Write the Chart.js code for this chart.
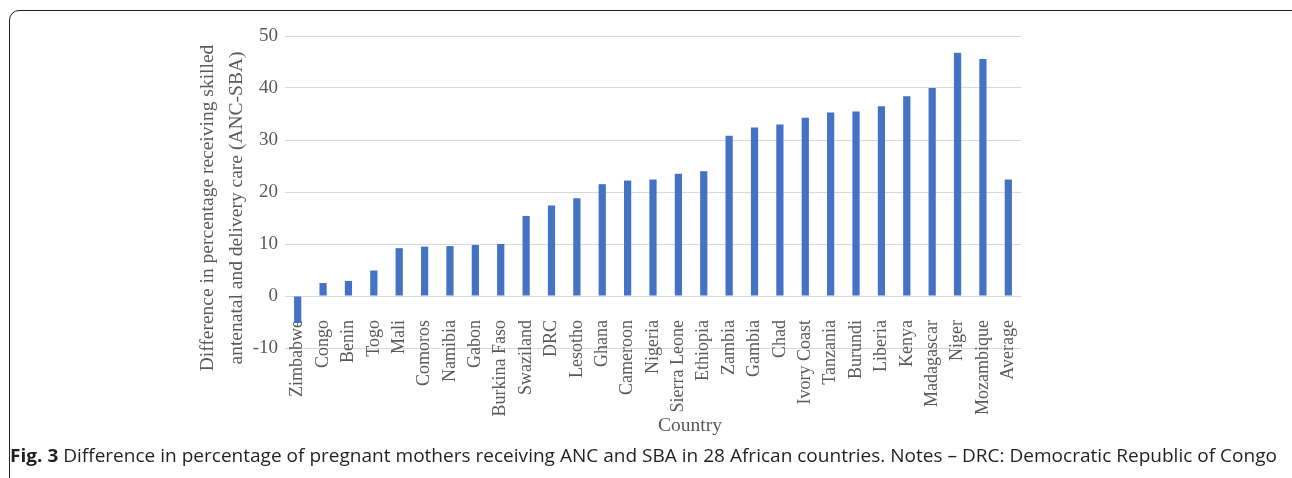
<!DOCTYPE html>
<html>
<head>
<meta charset="utf-8">
<title>Fig. 3</title>
<script src="https://cdn.jsdelivr.net/npm/chart.js@4.4.1/dist/chart.umd.min.js"></script>
<style>
html, body { margin: 0; padding: 0; background: #fff; }
#page { position: relative; width: 1292px; height: 478px; overflow: hidden; }
#frame { position: absolute; left: 9px; top: 10px; width: 1296px; height: 520px;
         border: 1.5px solid #231f20; border-radius: 10px; box-sizing: border-box; }
#chart-wrapper { position: absolute; left: 0; top: 0; width: 1292px; height: 478px; }
#caption { position: absolute; left: 10px; top: 447px; font-family: "Open Sans", sans-serif;
           font-size: 17.5px; line-height: 17px; color: #231f20; white-space: nowrap;
           transform-origin: 0 0; }
#caption b { font-weight: 700; }
</style>
</head>
<body>
<div id="page">
  <div id="frame"></div>
  <div id="chart-wrapper"><canvas id="chart" width="1292" height="478"></canvas></div>
  <div id="caption"><b>Fig. 3</b> Difference in percentage of pregnant mothers receiving ANC and SBA in 28 African countries. Notes – DRC: Democratic Republic of Congo</div>
</div>
<script>
(function() {

    // countries, sorted as in the figure, plus the overall average
    var countries = [
        "Zimbabwe", "Congo", "Benin", "Togo", "Mali", "Comoros", "Namibia",
        "Gabon", "Burkina Faso", "Swaziland", "DRC", "Lesotho", "Ghana",
        "Cameroon", "Nigeria", "Sierra Leone", "Ethiopia", "Zambia", "Gambia",
        "Chad", "Ivory Coast", "Tanzania", "Burundi", "Liberia", "Kenya",
        "Madagascar", "Niger", "Mozambique", "Average"
    ];
    // ANC minus SBA, percentage points
    var anc_sba_gap = [
        -5.2, 2.5, 2.9, 4.9, 9.2, 9.5, 9.6,
        9.8, 10.0, 15.4, 17.4, 18.8, 21.5,
        22.2, 22.4, 23.5, 24.0, 30.8, 32.4,
        33.0, 34.3, 35.3, 35.5, 36.5, 38.4,
        40.0, 46.8, 45.6, 22.4
    ];
    var y_tick_min = -10, y_tick_max = 50, y_tick_step = 10;
    var y_title_lines = [
        "Difference in percentage receiving skilled",
        "antenatal and delivery care (ANC-SBA)"
    ];
    var x_title = "Country";

    var text_color = '#595959',
        grid_color = '#d9d9d9',
        bar_color = '#4472c4',
        serif = '"Liberation Serif", "Times New Roman", serif';

    var pad_left = 200,
        area_left = 285;

    // axis titles drawn by hand so they can sit where Excel put them
    var axis_titles = {
        id: 'axis_titles',
        afterDraw: function(chart) {
            var ctx = chart.ctx,
                area = chart.chartArea;
            ctx.save();
            ctx.fillStyle = text_color;
            ctx.textAlign = 'center';
            ctx.textBaseline = 'middle';

            ctx.font = '19.5px ' + serif;
            var cy = (area.top + area.bottom) / 2 + 16;
            var xs = [208, 237];
            for (var i = 0; i < y_title_lines.length; ++i) {
                ctx.save();
                ctx.translate(xs[i], cy);
                ctx.rotate(-Math.PI / 2);
                ctx.fillText(y_title_lines[i], 0, 0);
                ctx.restore();
            }

            ctx.font = '19.5px ' + serif;
            ctx.fillText(x_title, (area.left + area.right) / 2 + 37, area.bottom + 78);
            ctx.restore();
        }
    };

    var chart = new Chart(document.getElementById('chart'), {
        type: 'bar',
        data: {
            labels: countries,
            datasets: [{
                data: anc_sba_gap,
                backgroundColor: bar_color,
                borderWidth: 0,
                categoryPercentage: 1.0,
                barPercentage: 0.285
            }]
        },
        options: {
            responsive: false,
            animation: false,
            layout: { padding: { left: pad_left, right: 271, top: 36, bottom: 130 } },
            plugins: {
                legend: { display: false },
                tooltip: { enabled: false }
            },
            scales: {
                x: {
                    position: { y: 0 },
                    grid: { display: false },
                    border: { display: false },
                    ticks: {
                        autoSkip: false,
                        minRotation: 90,
                        maxRotation: 90,
                        padding: 16,
                        color: text_color,
                        font: { family: serif, size: 18 }
                    }
                },
                y: {
                    min: y_tick_min,
                    max: y_tick_max,
                    afterFit: function(scale) { scale.width = area_left - pad_left; },
                    grid: { color: grid_color, lineWidth: 1, drawTicks: false },
                    border: { display: false },
                    ticks: {
                        stepSize: y_tick_step,
                        padding: 7,
                        color: text_color,
                        font: { family: serif, size: 19 }
                    }
                }
            }
        },
        plugins: [axis_titles]
    });

    // stretch the caption to the width it has in the figure
    var caption = document.getElementById('caption');
    var natural = caption.getBoundingClientRect().width;
    caption.style.transform = 'scaleX(' + (1267 / natural) + ')';

})();
</script>
</body>
</html>
